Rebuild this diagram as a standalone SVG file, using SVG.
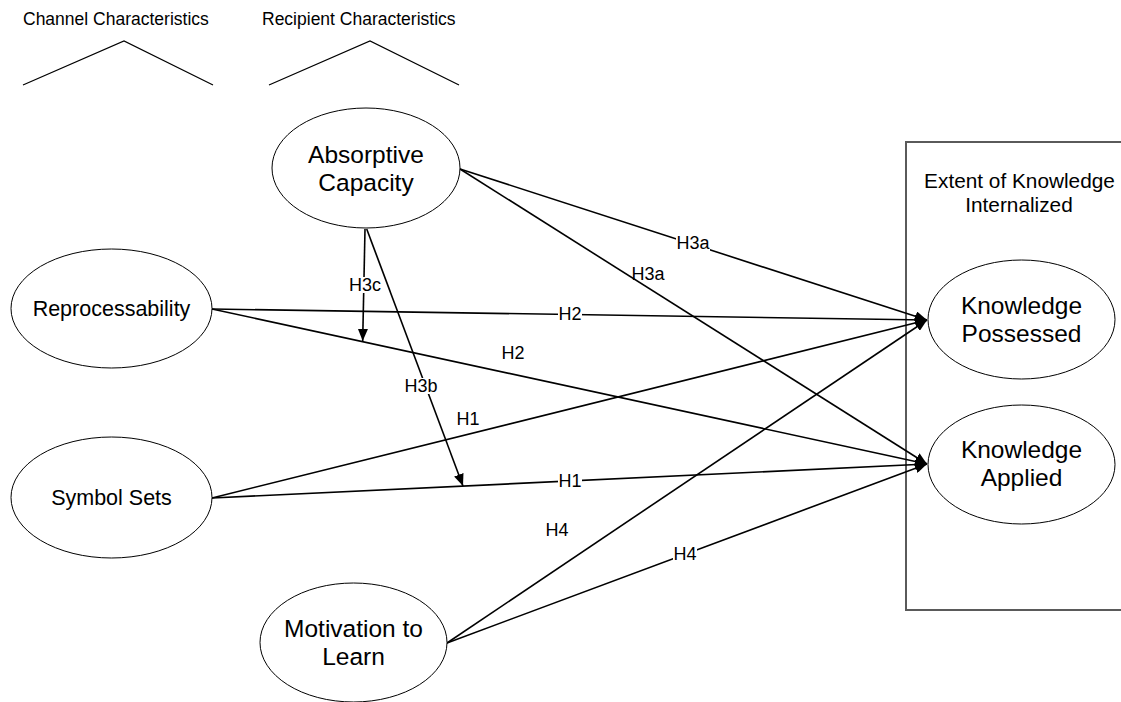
<svg xmlns="http://www.w3.org/2000/svg" width="1121" height="702" viewBox="0 0 1121 702">
<style>
.node ellipse{fill:#fff;stroke:#000;stroke-width:1}
.big{font-family:"Liberation Sans",Arial,sans-serif;font-size:24.5px;text-anchor:middle;fill:#000}
.mid{font-family:"Liberation Sans",Arial,sans-serif;font-size:21.5px;text-anchor:middle;fill:#000}
.hdr{font-family:"Liberation Sans",Arial,sans-serif;font-size:17.5px;fill:#000}
.lbl{font-family:"Liberation Sans",Arial,sans-serif;font-size:18px;text-anchor:middle;fill:#000}
.conn path{fill:none;stroke:#000;stroke-width:1.6;marker-end:url(#arr)}
.bg{fill:#fff}
.chev{fill:none;stroke:#000;stroke-width:1.2}
</style>
<defs>
<marker id="arr" markerUnits="userSpaceOnUse" markerWidth="12" markerHeight="10" refX="12" refY="5" orient="auto">
<path d="M0,0 L12,5 L0,10 Z" fill="#000"/>
</marker>
</defs>
<rect width="1121" height="702" fill="#fff"/>

<g id="headers">
<text class="hdr" x="23" y="25">Channel Characteristics</text>
<text class="hdr" x="262" y="25">Recipient Characteristics</text>
<path class="chev" d="M23,85 L124,41 L213,85"/>
<path class="chev" d="M269,85 L370,41 L459,85"/>
</g>

<g id="extent">
<rect x="906" y="142" width="230" height="468" fill="none" stroke="#5a5a5a" stroke-width="2"/>
<text class="mid" style="font-size:20.8px" x="1019.5" y="188">Extent of Knowledge</text>
<text class="mid" style="font-size:20.8px" x="1019" y="212">Internalized</text>
</g>

<g id="connectors" class="conn">
<path d="M460,169 L927,320"/>
<path d="M460,169 L927,464"/>
<path d="M365,229 L362.7,341"/>
<path d="M366.7,229 L463,486"/>
<path d="M212,309 L927,320"/>
<path d="M212,309 L927,464"/>
<path d="M212,498 L927,320"/>
<path d="M212,498 L927,464"/>
<path d="M447,643 L927,320"/>
<path d="M447,643 L927,464"/>
</g>

<g id="labels">
<rect class="bg" x="676" y="235" width="34" height="16"/>
<text class="lbl" x="693" y="249.4">H3a</text>
<text class="lbl" x="648" y="280.4">H3a</text>
<rect class="bg" x="348" y="277" width="34" height="16"/>
<text class="lbl" x="365" y="291.4">H3c</text>
<rect class="bg" x="404" y="378" width="34" height="16"/>
<text class="lbl" x="421" y="392.4">H3b</text>
<rect class="bg" x="558" y="306" width="24" height="16"/>
<text class="lbl" x="570" y="320.4">H2</text>
<text class="lbl" x="513" y="359.4">H2</text>
<text class="lbl" x="468" y="425.4">H1</text>
<rect class="bg" x="558" y="473" width="24" height="16"/>
<text class="lbl" x="570" y="487.4">H1</text>
<text class="lbl" x="557" y="536.4">H4</text>
<rect class="bg" x="673" y="546" width="24" height="16"/>
<text class="lbl" x="685" y="560.4">H4</text>
</g>

<g id="absorptive" class="node">
<ellipse cx="366" cy="168" rx="94" ry="60"/>
<text class="big" x="366" y="163">Absorptive</text>
<text class="big" x="366" y="191">Capacity</text>
</g>
<g id="reprocessability" class="node">
<ellipse cx="111.5" cy="308.5" rx="100.5" ry="59.5"/>
<text class="mid" x="111.5" y="316.2">Reprocessability</text>
</g>
<g id="symbolsets" class="node">
<ellipse cx="111.5" cy="497.5" rx="100.5" ry="60.5"/>
<text class="mid" x="111.5" y="505.2">Symbol Sets</text>
</g>
<g id="motivation" class="node">
<ellipse cx="353.5" cy="642.5" rx="93.5" ry="59.5"/>
<text class="big" x="353.5" y="637">Motivation to</text>
<text class="big" x="353.5" y="665">Learn</text>
</g>
<g id="possessed" class="node">
<ellipse cx="1021.5" cy="319.5" rx="93.5" ry="59.5"/>
<text class="big" x="1021.5" y="314">Knowledge</text>
<text class="big" x="1021.5" y="342">Possessed</text>
</g>
<g id="applied" class="node">
<ellipse cx="1021.5" cy="464.5" rx="93.5" ry="59.5"/>
<text class="big" x="1021.5" y="458">Knowledge</text>
<text class="big" x="1021.5" y="486">Applied</text>
</g>
</svg>
